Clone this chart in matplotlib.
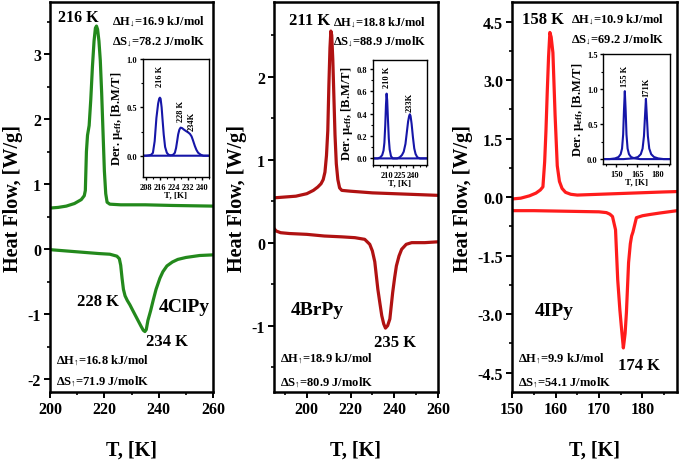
import matplotlib
matplotlib.use("Agg")
import matplotlib.pyplot as plt
from matplotlib.ticker import MultipleLocator, FixedLocator

plt.rcParams['font.family'] = ['Liberation Serif', 'DejaVu Serif']
plt.rcParams['font.weight'] = 'bold'
plt.rcParams['mathtext.fontset'] = 'custom'
plt.rcParams['mathtext.rm'] = 'Liberation Serif:bold'
plt.rcParams['mathtext.it'] = 'Liberation Serif:bold'
plt.rcParams['mathtext.bf'] = 'Liberation Serif:bold'
plt.rcParams['axes.unicode_minus'] = False

# ---- 4ClPy main DSC curves
cl_cool_T = [200, 203, 206, 209, 211.5, 212.6, 213.0, 213.4, 213.8, 214.4, 215.0, 215.6, 216.2,
             216.7, 217.1, 217.5, 218.0, 218.5, 219.0, 219.5, 220.0, 220.5, 221.0, 222, 226, 235, 245, 260]
cl_cool_v = [0.63, 0.64, 0.66, 0.70, 0.76, 0.82, 0.9, 1.5, 1.75, 1.9, 2.3, 2.8, 3.2,
             3.4, 3.43, 3.38, 3.2, 2.9, 2.4, 1.8, 1.2, 0.85, 0.72, 0.69, 0.68, 0.68, 0.67, 0.66]
cl_heat_T = [200, 206, 212, 218, 222, 224.6, 225.5, 226.0, 226.5, 227.0, 227.6, 228.4, 229.4,
             230.5, 231.5, 232.5, 233.5, 234.3, 234.9, 235.4, 236.0, 237.0, 238.0, 239.0, 240.4,
             241.5, 243.0, 245.0, 247.0, 250.0, 255.0, 260.0]
cl_heat_v = [-0.01, -0.03, -0.05, -0.07, -0.08, -0.11, -0.15, -0.25, -0.45, -0.62, -0.72, -0.79, -0.86,
             -0.95, -1.03, -1.11, -1.19, -1.25, -1.27, -1.24, -1.1, -0.95, -0.78, -0.62, -0.45,
             -0.35, -0.26, -0.2, -0.16, -0.13, -0.1, -0.09]

# ---- 4BrPy main DSC curves
br_cool_T = [185, 190, 195, 200, 203, 205, 206.5, 207.5, 208.3, 209.0, 209.6, 210.1, 210.6, 211.0,
             211.4, 211.9, 212.4, 212.9, 213.5, 214.2, 215, 216, 220, 230, 240, 250, 260]
br_cool_v = [0.54, 0.55, 0.56, 0.59, 0.63, 0.67, 0.71, 0.76, 0.85, 1.05, 1.35, 1.9, 2.35, 2.55,
             2.5, 2.2, 1.75, 1.3, 0.95, 0.76, 0.66, 0.63, 0.62, 0.6, 0.59, 0.58, 0.57]
br_heat_T = [185, 186, 188, 192, 200, 208, 216, 222, 226.5, 228.8, 230.0, 231.1, 232.5, 233.5,
             234.3, 235.2, 236.0, 237.0, 238.0, 239.3, 240.2, 241.0, 242.2, 243.4, 245.5, 248, 254, 260]
br_heat_v = [0.17, 0.14, 0.12, 0.11, 0.1, 0.08, 0.07, 0.06, 0.04, -0.02, -0.1, -0.23, -0.56, -0.74,
             -0.88, -0.98, -1.03, -1.0, -0.92, -0.6, -0.42, -0.28, -0.16, -0.08, -0.02, 0.0, 0.0, 0.01]

# ---- 4IPy main DSC curves
i_cool_T = [150, 152, 154, 155.5, 156.5, 157.1, 157.5, 157.8, 158.1, 158.4, 158.7, 159.0, 159.4,
            159.9, 160.4, 160.9, 161.5, 162.3, 163.5, 165, 170, 175, 180, 185, 188]
i_cool_v = [-0.05, -0.03, 0.03, 0.1, 0.18, 0.26, 0.9, 1.7, 2.7, 3.6, 4.22, 4.1, 3.7,
            2.1, 0.8, 0.4, 0.22, 0.12, 0.07, 0.05, 0.07, 0.09, 0.11, 0.13, 0.14]
i_heat_T = [150, 155, 160, 165, 170, 171.7, 172.5, 173.1, 173.8, 174.3, 174.8, 175.2, 175.6,
            176.0, 176.3, 176.8, 177.2, 177.5, 177.8, 178.6, 180, 181.6, 184, 188]
i_heat_v = [-0.35, -0.35, -0.36, -0.37, -0.38, -0.4, -0.44, -0.5, -0.84, -2.12, -2.9, -3.4, -3.87,
            -3.5, -2.97, -1.68, -1.2, -1.0, -0.9, -0.53, -0.48, -0.45, -0.41, -0.35]

# ---- insets: derivative of mu_eff
in1_cool_T = [206, 208, 210, 211, 212, 213, 214, 215, 215.6, 216, 216.4, 217, 217.5, 218.2, 219, 220, 221, 223, 230, 238, 244]
in1_cool_v = [0.0, 0.0, 0.005, 0.01, 0.03, 0.15, 0.39, 0.54, 0.59, 0.6, 0.59, 0.5, 0.38, 0.22, 0.09, 0.03, 0.01, 0.0, 0.0, 0.0, 0.0]
in1_heat_T = [206, 215, 222, 223.6, 224.6, 225.3, 226, 226.5, 227.2, 227.9, 228.8, 229.8, 231, 232.3,
              233.3, 234.2, 235, 236.1, 237, 238, 239.5, 241, 244]
in1_heat_v = [0.0, 0.0, 0.0, 0.01, 0.03, 0.08, 0.16, 0.22, 0.27, 0.29, 0.285, 0.27, 0.255, 0.24,
              0.225, 0.2, 0.16, 0.1, 0.06, 0.03, 0.01, 0.0, 0.0]

in2_cool_T = [194.5, 200, 203, 205, 206.5, 207.5, 208.5, 209.3, 210, 210.7, 211.5, 212.5, 213.5, 215, 217, 220, 230, 256]
in2_cool_v = [0.0, 0.0, 0.01, 0.03, 0.07, 0.14, 0.3, 0.48, 0.58, 0.52, 0.36, 0.18, 0.08, 0.02, 0.0, 0.0, 0.0, 0.0]
in2_heat_T = [194.5, 215, 222, 225, 227.5, 229.5, 231.5, 233, 234.5, 235.7, 236.5, 237.3, 238.5, 240, 241.5, 243, 245, 248, 256]
in2_heat_v = [0.0, 0.0, 0.0, 0.01, 0.03, 0.06, 0.13, 0.23, 0.33, 0.38, 0.395, 0.38, 0.31, 0.19, 0.09, 0.04, 0.01, 0.0, 0.0]

in3_cool_T = [140.5, 145, 149, 151.5, 153, 154, 154.8, 155.4, 156, 156.6, 157.2, 158, 159, 160.5, 163, 167, 175, 188.5]
in3_cool_v = [0.0, 0.0, 0.01, 0.03, 0.07, 0.15, 0.35, 0.7, 0.97, 0.7, 0.35, 0.15, 0.07, 0.03, 0.01, 0.0, 0.0, 0.0]
in3_heat_T = [140.5, 155, 162, 165.5, 167.5, 168.8, 169.8, 170.5, 171.2, 171.9, 172.6, 173.6, 175, 177, 180, 184, 188.5]
in3_heat_v = [0.0, 0.0, 0.01, 0.03, 0.07, 0.15, 0.33, 0.6, 0.86, 0.6, 0.33, 0.15, 0.07, 0.03, 0.01, 0.0, 0.0]

in1_xticks = [208, 216, 224, 232, 240]
in2_xticks = [210, 225, 240]
in3_xticks = [150, 165, 180]

green = '#23891c'
darkred = '#b01212'
red = '#ff1c1c'
blue = '#1616a8'

fig = plt.figure(figsize=(6.8, 4.64), dpi=100)


def style_main(ax, xlim, ylim, xmaj, xmin, ymaj, ymin, yfmt=None):
    ax.set_xlim(*xlim)
    ax.set_ylim(*ylim)
    ax.xaxis.set_major_locator(MultipleLocator(xmaj))
    ax.xaxis.set_minor_locator(MultipleLocator(xmin))
    ax.yaxis.set_major_locator(MultipleLocator(ymaj))
    ax.yaxis.set_minor_locator(MultipleLocator(ymin))
    if yfmt:
        ax.yaxis.set_major_formatter(yfmt)
    for s in ax.spines.values():
        s.set_linewidth(1.8)
    ax.tick_params(which='major', direction='out', length=4.5, width=1.4, labelsize=11.5, pad=2)
    ax.tick_params(which='minor', direction='out', length=2.5, width=1.2)
    ax.set_xlabel('T, [K]', fontsize=14.5, fontweight='bold', labelpad=16)
    ax.set_ylabel('Heat Flow, [W/g]', fontsize=14.5, fontweight='bold', labelpad=3)


def style_inset(ax, xlim, ylim, xticks, xmin, ymaj, ymin, ylab_pad=1):
    ax.set_xlim(*xlim)
    ax.set_ylim(*ylim)
    ax.xaxis.set_major_locator(FixedLocator(xticks))
    ax.xaxis.set_minor_locator(MultipleLocator(xmin))
    ax.yaxis.set_major_locator(MultipleLocator(ymaj))
    ax.yaxis.set_minor_locator(MultipleLocator(ymin))
    for s in ax.spines.values():
        s.set_linewidth(1.0)
    ax.tick_params(which='major', direction='out', length=2.5, width=1.0, labelsize=6, pad=1.5)
    ax.tick_params(which='minor', direction='out', length=1.5, width=0.8)
    ax.set_xlabel('T, [K]', fontsize=6.5, fontweight='bold', labelpad=0)
    ax.set_ylabel(r'Der. $\mathregular{\mu_{eff}}$, [B.M/T]', fontsize=9, fontweight='bold', labelpad=ylab_pad)


def dh(sym, arrow, rest):
    # literal unicode arrow avoids mathtext relation spacing
    return r'$\Delta\mathrm{' + sym + r'}_{' + arrow + r'}$' + rest


down = '↓'
up = '↑'

# ---------------- panel 1: 4ClPy
ax1 = fig.add_axes([0.0735, 0.153, 0.24, 0.8405])
ax1.plot(cl_cool_T, cl_cool_v, color=green, lw=2.3)
ax1.plot(cl_heat_T, cl_heat_v, color=green, lw=2.3)
style_main(ax1, (200, 260), (-2.2, 3.8), 20, 10, 1, 0.5)
ax1.text(210.3, 3.57, '216 K', fontsize=11.5, ha='center', va='center')
ax1.text(222.8, 3.51, dh('H', down, '=16.9 kJ/mol'), fontsize=9, ha='left', va='center')
ax1.text(222.8, 3.2, dh('S', down, '=78.2 J/molK'), fontsize=9, ha='left', va='center')
ax1.text(217.6, -0.8, '228 K', fontsize=12, ha='center', va='center')
ax1.text(249.5, -0.88, '4ClPy', fontsize=14, ha='center', va='center')
ax1.text(243, -1.42, '234 K', fontsize=12, ha='center', va='center')
ax1.text(202.2, -1.7, dh('H', up, '=16.8 kJ/mol'), fontsize=9, ha='left', va='center')
ax1.text(202.2, -2.03, dh('S', up, '=71.9 J/molK'), fontsize=9, ha='left', va='center')

in1 = fig.add_axes([0.2103, 0.6164, 0.097, 0.2543])
in1.plot(in1_cool_T, in1_cool_v, color=blue, lw=1.5)
in1.plot(in1_heat_T, in1_heat_v, color=blue, lw=1.5)
style_inset(in1, (206.3, 244.2), (-0.22, 1.0), in1_xticks, 4, 0.5, 0.25)
in1.text(216, 0.83, '216 K', fontsize=6, rotation=90, ha='center', va='center')
in1.text(228, 0.47, '228 K', fontsize=6, rotation=90, ha='center', va='center')
in1.text(234.2, 0.36, '234K', fontsize=6, rotation=90, ha='center', va='center')

# ---------------- panel 2: 4BrPy
ax2 = fig.add_axes([0.403, 0.153, 0.241, 0.8405])
ax2.plot(br_cool_T, br_cool_v, color=darkred, lw=2.3)
ax2.plot(br_heat_T, br_heat_v, color=darkred, lw=2.3)
style_main(ax2, (185, 260), (-1.8, 2.9), 20, 10, 1, 0.5)
ax2.text(201.4, 2.68, '211 K', fontsize=12, ha='center', va='center')
ax2.text(212, 2.66, dh('H', down, '=18.8 kJ/mol'), fontsize=9, ha='left', va='center')
ax2.text(212, 2.43, dh('S', down, '=88.9 J/molK'), fontsize=9, ha='left', va='center')
ax2.text(204.6, -0.8, '4BrPy', fontsize=14, ha='center', va='center')
ax2.text(240.3, -1.2, '235 K', fontsize=12, ha='center', va='center')
ax2.text(187.7, -1.39, dh('H', up, '=18.9 kJ/mol'), fontsize=9, ha='left', va='center')
ax2.text(187.7, -1.67, dh('S', up, '=80.9 J/molK'), fontsize=9, ha='left', va='center')

in2 = fig.add_axes([0.5485, 0.642, 0.0794, 0.2263])
in2.plot(in2_cool_T, in2_cool_v, color=blue, lw=1.5)
in2.plot(in2_heat_T, in2_heat_v, color=blue, lw=1.5)
style_inset(in2, (194.5, 256), (-0.06, 0.88), in2_xticks, 7.5, 0.2, 0.1)
in2.text(210, 0.73, '210 K', fontsize=6, rotation=90, ha='center', va='center')
in2.text(236.8, 0.51, '233K', fontsize=6, rotation=90, ha='center', va='center')

# ---------------- panel 3: 4IPy
ax3 = fig.add_axes([0.753, 0.153, 0.243, 0.8405])
ax3.plot(i_cool_T, i_cool_v, color=red, lw=2.3)
ax3.plot(i_heat_T, i_heat_v, color=red, lw=2.3)
style_main(ax3, (150, 188), (-5.0, 5.0), 10, 5, 1.5, 0.75, yfmt='{x:.1f}')
ax3.text(157.1, 4.56, '158 K', fontsize=12, ha='center', va='center')
ax3.text(163.5, 4.56, dh('H', down, '=10.9 kJ/mol'), fontsize=9, ha='left', va='center')
ax3.text(163.5, 4.05, dh('S', down, '=69.2 J/molK'), fontsize=9, ha='left', va='center')
ax3.text(159.8, -2.9, '4IPy', fontsize=14, ha='center', va='center')
ax3.text(179.3, -4.3, '174 K', fontsize=12, ha='center', va='center')
ax3.text(151.4, -4.13, dh('H', up, '=9.9 kJ/mol'), fontsize=9, ha='left', va='center')
ax3.text(151.4, -4.74, dh('S', up, '=54.1 J/molK'), fontsize=9, ha='left', va='center')

in3 = fig.add_axes([0.8872, 0.6444, 0.098, 0.237])
in3.plot(in3_cool_T, in3_cool_v, color=blue, lw=1.5)
in3.plot(in3_heat_T, in3_heat_v, color=blue, lw=1.5)
style_inset(in3, (140.5, 188.5), (-0.07, 1.5), in3_xticks, 7.5, 0.5, 0.25)
in3.text(156, 1.19, '155 K', fontsize=6, rotation=90, ha='center', va='center')
in3.text(171.2, 1.04, '171K', fontsize=6, rotation=90, ha='center', va='center')

fig.savefig('out.png', dpi=100)
